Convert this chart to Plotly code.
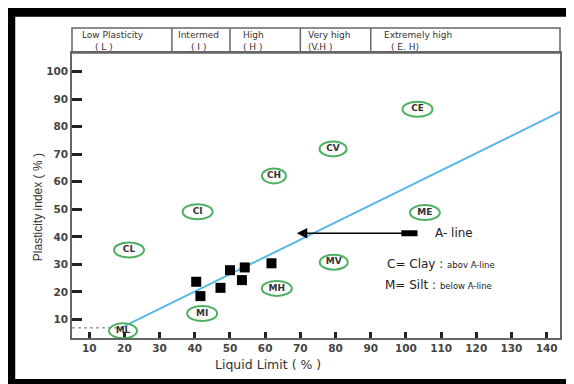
import plotly.graph_objects as go

# ---------------- data ----------------
SAMPLE_LL = [40.4, 41.6, 47.3, 50.0, 53.4, 54.2, 61.8]
SAMPLE_PI = [23.7, 18.5, 21.5, 27.9, 24.3, 28.9, 30.4]

ZONE_LABELS = ["CL", "ML", "CI", "MI", "CH", "MH", "CV", "MV", "CE", "ME"]
ZONE_LL = [21.3, 19.6, 40.8, 42.1, 62.5, 63.3, 79.3, 79.5, 103.3, 105.4]
ZONE_PI = [35.2, 5.9, 49.1, 12.2, 62.1, 21.3, 71.9, 30.8, 86.3, 48.8]
ZONE_W = [30, 28, 30, 30, 24, 30, 27, 28, 30, 30]

A_LINE_LL = [20.0, 143.8]
A_LINE_PI = [7.6, 85.3]

CLML_LL = [5.1, 20.0]
CLML_PI = [7.0, 7.0]

BAND_EDGES = [5.1, 33.5, 50.0, 70.0, 90.0, 143.8]
BAND_LINE1 = ["Low Plasticity", "Intermed", "High", "Very high", "Extremely high"]
BAND_LINE2 = ["( L )", "( I )", "( H )", "(V.H )", "( E. H)"]

X_TICKS = list(range(10, 150, 10))
Y_TICKS = list(range(10, 110, 10))

# ---------------- layout geometry (page pixels; figure sits at page (8, 8)) ----------------
PAGE_OFF = 8
PLOT_X0, PLOT_X1, PLOT_Y0, PLOT_Y1 = 72, 562, 53, 338
W, H = 574 - PAGE_OFF, 384 - PAGE_OFF
L = PLOT_X0 - PAGE_OFF
T = PLOT_Y0 - PAGE_OFF
R = W - (PLOT_X1 - PAGE_OFF)
B = H - (PLOT_Y1 - PAGE_OFF)
PW, PH = PLOT_X1 - PLOT_X0, PLOT_Y1 - PLOT_Y0


def px_x(px):
    return (px - PLOT_X0) / PW


def px_y(py):
    return (PLOT_Y1 - py) / PH


fig = go.Figure()

fig.add_trace(go.Scatter(x=CLML_LL, y=CLML_PI, mode="lines",
                         line=dict(color="#888", width=1.2, dash="dot"),
                         hoverinfo="skip", showlegend=False))
fig.add_trace(go.Scatter(x=A_LINE_LL, y=A_LINE_PI, mode="lines",
                         line=dict(color="#5ab8e6", width=2),
                         showlegend=False, cliponaxis=False))
fig.add_trace(go.Scatter(x=SAMPLE_LL, y=SAMPLE_PI, mode="markers",
                         marker=dict(symbol="square", size=10, color="black"),
                         showlegend=False))
fig.add_trace(go.Scatter(x=ZONE_LL, y=ZONE_PI, mode="text", text=ZONE_LABELS,
                         textfont=dict(family="DejaVu Sans", size=9, color="#333",
                                       weight="bold"),
                         showlegend=False))

shapes = []
for lx, ly, w in zip(ZONE_LL, ZONE_PI, ZONE_W):
    shapes.append(dict(type="circle", xref="x", yref="y",
                       xsizemode="pixel", ysizemode="pixel",
                       xanchor=lx, yanchor=ly,
                       x0=-w / 2, x1=w / 2, y0=-7.5, y1=7.5,
                       line=dict(color="#4fb062", width=2)))

# header band
hdr_top = px_y(28)
shapes.append(dict(type="rect", xref="paper", yref="paper", x0=0, x1=1,
                   y0=1, y1=hdr_top, line=dict(color="#666", width=1.5)))
for e in BAND_EDGES[1:-1]:
    shapes.append(dict(type="line", xref="x", yref="paper", x0=e, x1=e,
                       y0=1, y1=hdr_top, line=dict(color="#666", width=1.5)))

# arrow block
shapes.append(dict(type="line", xref="x", yref="y", x0=98.7, x1=103.3,
                   y0=41.3, y1=41.3, line=dict(color="black", width=6)))

# outer frame
shapes += [
    dict(type="rect", xref="paper", yref="paper", x0=px_x(8), x1=px_x(576),
         y0=px_y(16.7), y1=px_y(7), fillcolor="black", line=dict(width=0), layer="above"),
    dict(type="rect", xref="paper", yref="paper", x0=px_x(7), x1=px_x(15),
         y0=px_y(386), y1=px_y(7), fillcolor="black", line=dict(width=0), layer="above"),
    dict(type="rect", xref="paper", yref="paper", x0=px_x(7), x1=px_x(576),
         y0=px_y(386), y1=px_y(379), fillcolor="black", line=dict(width=0), layer="above"),
    dict(type="line", xref="paper", yref="paper", x0=px_x(570), x1=px_x(570),
         y0=px_y(379), y1=px_y(16.7), line=dict(color="#888", width=1.5)),
]

ann = []
line1_dx = [9, 5, 12, 7, 12]
line2_dx = [22, 18, 12, 7, 19]
for i, (t1, t2) in enumerate(zip(BAND_LINE1, BAND_LINE2)):
    ann.append(dict(x=BAND_EDGES[i], xref="x", y=px_y(40.5), yref="paper", text=t1,
                    xanchor="left", yanchor="bottom", xshift=line1_dx[i], showarrow=False,
                    borderpad=0,
                    font=dict(family="DejaVu Sans", size=9, color="#333")))
    ann.append(dict(x=BAND_EDGES[i], xref="x", y=px_y(40.8), yref="paper", text=t2,
                    xanchor="left", yanchor="top", xshift=line2_dx[i], showarrow=False,
                    borderpad=0,
                    font=dict(family="DejaVu Sans", size=9, color="#333")))

ann.append(dict(x=69.0, y=41.3, xref="x", yref="y", ax=101.0, ay=41.3,
                axref="x", ayref="y", showarrow=True, arrowhead=2, arrowsize=1.3,
                arrowwidth=1.6, arrowcolor="black", text=""))
ann.append(dict(x=px_x(434), y=px_y(233), xref="paper", yref="paper", text="A- line",
                xanchor="left", yanchor="middle", showarrow=False,
                font=dict(family="DejaVu Sans", size=12, color="#222")))
ann.append(dict(x=px_x(386), y=px_y(264), xref="paper", yref="paper",
                text="C= Clay : <span style='font-size:8.5px'>abov A-line</span>",
                xanchor="left", yanchor="middle", showarrow=False,
                font=dict(family="DejaVu Sans", size=12, color="#222")))
ann.append(dict(x=px_x(384), y=px_y(285), xref="paper", yref="paper",
                text="M= Silt : <span style='font-size:8.5px'>below A-line</span>",
                xanchor="left", yanchor="middle", showarrow=False,
                font=dict(family="DejaVu Sans", size=12, color="#222")))
ann.append(dict(x=px_x(269), y=px_y(364), xref="paper", yref="paper",
                text="Liquid Limit ( % )", xanchor="center", yanchor="middle",
                showarrow=False, font=dict(family="DejaVu Sans", size=12.5, color="#333")))
ann.append(dict(x=px_x(38), y=px_y(207), xref="paper", yref="paper",
                text="Plasticity index ( % )", textangle=-90, xanchor="center",
                yanchor="middle", showarrow=False,
                font=dict(family="Liberation Sans", size=12, color="#333")))

fig.update_layout(
    width=W, height=H,
    margin=dict(l=L, r=R, t=T, b=B, pad=0),
    paper_bgcolor="white", plot_bgcolor="white",
    shapes=shapes, annotations=ann,
    xaxis=dict(range=[BAND_EDGES[0], BAND_EDGES[-1]], tickvals=X_TICKS,
               ticks="inside", ticklen=6, tickwidth=2.5, tickcolor="#222",
               showline=True, mirror=True, linecolor="#666", linewidth=1.5,
               showgrid=False, zeroline=False,
               tickfont=dict(family="DejaVu Sans", size=10.5, color="#444", weight="bold")),
    yaxis=dict(range=[3.3, 106.7], tickvals=Y_TICKS,
               ticks="inside", ticklen=10, tickwidth=2.5, tickcolor="#222",
               showline=True, mirror=True, linecolor="#666", linewidth=1.5,
               showgrid=False, zeroline=False,
               tickfont=dict(family="DejaVu Sans", size=10.5, color="#444", weight="bold")),
)

fig.write_html("out.html")
